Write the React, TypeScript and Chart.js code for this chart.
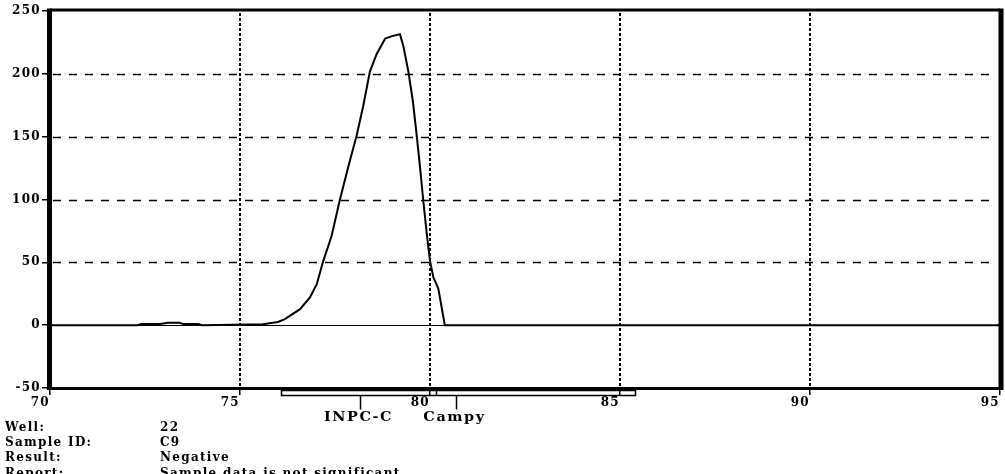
import React, { useEffect, useRef } from 'react';
import { Chart, registerables } from 'chart.js';

Chart.register(...registerables);

// Melt curve: temperature (°C) vs. fluorescence derivative
const temperatures = [
  70, 72.3, 72.4, 72.9, 73.1, 73.4, 73.5, 73.9, 74.0, 75.6, 76.0, 76.18, 76.58, 76.84, 77.02,
  77.19, 77.41, 77.63, 77.85, 78.07, 78.24, 78.42, 78.6, 78.82, 79.0, 79.21, 79.3, 79.43,
  79.55, 79.65, 79.74, 79.82, 79.91, 80.0, 80.09, 80.22, 80.39, 95,
];
const fluorescence = [
  0, 0, 1, 1, 2, 2, 1, 1, 0, 0.8, 2.5, 4.8, 12.7, 22, 32.6,
  51, 71, 100, 126, 151, 174, 202, 216, 228, 230, 231.5, 222, 202,
  178, 151, 125, 100, 74, 51, 38, 29, 0, 0,
];

const xTickValues = [70, 75, 80, 85, 90, 95];
const yTickValues = [-50, 0, 50, 100, 150, 200, 250];
const dashedGridValues = [50, 100, 150, 200];
const dottedGridValues = [75, 80, 85, 90];

// Target range bar under the axis
const rangeBar = [76.08, 85.39];
const rangeDivider = 80.15;
const markerNames = ['INPC-C', 'Campy'];
const markerTemps = [78.16, 80.68];

const footerLabels = ['Well:', 'Sample ID:', 'Result:', 'Report:'];
const footerValues = ['22', 'C9', 'Negative', 'Sample data is not significant'];

const FONT = '"DejaVu Serif", "Liberation Serif", serif';

const decorPlugin = {
  id: 'decor',
  beforeDatasetsDraw(chart: any) {
    const { ctx, chartArea: a, scales } = chart;
    const x = scales.x;
    const y = scales.y;
    ctx.save();
    ctx.strokeStyle = '#000';
    // horizontal dashed grid lines
    ctx.lineWidth = 1.5;
    ctx.setLineDash([8, 8]);
    for (const v of dashedGridValues) {
      const py = Math.round(y.getPixelForValue(v)) + 0.5;
      ctx.beginPath();
      ctx.moveTo(a.left + 3, py);
      ctx.lineTo(a.right - 3, py);
      ctx.stroke();
    }
    // zero line
    ctx.setLineDash([]);
    ctx.lineWidth = 1.2;
    const pz = Math.round(y.getPixelForValue(0)) + 0.5;
    ctx.beginPath();
    ctx.moveTo(a.left, pz);
    ctx.lineTo(a.right - 8, pz);
    ctx.stroke();
    // vertical dotted grid lines
    ctx.lineWidth = 2;
    ctx.setLineDash([3, 2]);
    for (const v of dottedGridValues) {
      const px = Math.round(x.getPixelForValue(v));
      ctx.beginPath();
      ctx.moveTo(px, a.top + 2);
      ctx.lineTo(px, a.bottom);
      ctx.stroke();
    }
    ctx.restore();
  },
  afterDraw(chart: any) {
    const { ctx, chartArea: a, scales } = chart;
    const x = scales.x;
    ctx.save();
    ctx.strokeStyle = '#000';
    ctx.fillStyle = '#000';
    ctx.setLineDash([]);
    // frame
    ctx.lineWidth = 3;
    ctx.beginPath();
    ctx.moveTo(a.left, a.top - 1);
    ctx.lineTo(a.right, a.top - 1);
    ctx.moveTo(a.left, a.bottom + 0.5);
    ctx.lineTo(a.right, a.bottom + 0.5);
    ctx.stroke();
    ctx.lineWidth = 5;
    ctx.beginPath();
    ctx.moveTo(a.left - 0.5, a.top - 2.5);
    ctx.lineTo(a.left - 0.5, a.bottom + 2);
    ctx.moveTo(a.right + 1, a.top - 2.5);
    ctx.lineTo(a.right + 1, a.bottom + 2);
    ctx.stroke();

    // range bar
    const x0 = Math.round(x.getPixelForValue(rangeBar[0])) + 0.5;
    const x1 = Math.round(x.getPixelForValue(rangeBar[1])) + 0.5;
    const top = a.bottom + 2.5;
    const bot = a.bottom + 7.5;
    ctx.lineWidth = 1.5;
    ctx.strokeRect(x0, top, x1 - x0, bot - top);
    const xd = Math.round(x.getPixelForValue(rangeDivider)) + 0.5;
    ctx.beginPath();
    ctx.moveTo(xd, top);
    ctx.lineTo(xd, bot);
    ctx.stroke();

    // markers
    ctx.font = `bold 12px ${FONT}`;
    ctx.textAlign = 'center';
    ctx.textBaseline = 'middle';
    markerNames.forEach((name, i) => {
      const px = Math.round(x.getPixelForValue(markerTemps[i])) + 0.5;
      ctx.lineWidth = 1.5;
      ctx.beginPath();
      ctx.moveTo(px, bot);
      ctx.lineTo(px, bot + 14);
      ctx.stroke();
      ctx.save();
      ctx.translate(px - 2, a.bottom + 30);
      ctx.scale(1.2, 1);
      ctx.fillText(name, 0, 0);
      ctx.restore();
    });
    ctx.restore();
  },
};

export default function App() {
  const canvasRef = useRef<HTMLCanvasElement | null>(null);

  useEffect(() => {
    if (!canvasRef.current) return;
    const chart = new Chart(canvasRef.current, {
      type: 'line',
      data: {
        datasets: [
          {
            data: temperatures.map((t, i) => ({ x: t, y: fluorescence[i] })),
            borderColor: '#000',
            borderWidth: 2,
            pointRadius: 0,
            tension: 0,
            fill: false,
          },
        ],
      },
      options: {
        animation: false,
        responsive: true,
        maintainAspectRatio: false,
        layout: { padding: { top: 11, right: 5, bottom: 0, left: 0 } },
        plugins: { legend: { display: false }, tooltip: { enabled: false } },
        scales: {
          x: {
            type: 'linear',
            min: 70,
            max: 95,
            afterBuildTicks: (s: any) => {
              s.ticks = xTickValues.map((v) => ({ value: v }));
            },
            afterFit: (s: any) => {
              s.height = 86;
            },
            ticks: {
              align: 'end',
              padding: 1,
              color: '#000',
              font: { family: FONT, size: 12, weight: 'bold' },
            },
            grid: {
              display: true,
              drawOnChartArea: false,
              drawTicks: true,
              tickLength: 7,
              color: '#000',
              lineWidth: 1.5,
            },
            border: { display: false },
          },
          y: {
            type: 'linear',
            min: -50,
            max: 250,
            afterBuildTicks: (s: any) => {
              s.ticks = yTickValues.map((v) => ({ value: v }));
            },
            afterFit: (s: any) => {
              s.width = 50;
            },
            ticks: {
              padding: 1,
              color: '#000',
              font: { family: FONT, size: 12, weight: 'bold' },
            },
            grid: {
              display: true,
              drawOnChartArea: false,
              drawTicks: true,
              tickLength: 8,
              color: '#000',
              lineWidth: 1.5,
            },
            border: { display: false },
          },
        },
      },
      plugins: [decorPlugin],
    });
    return () => chart.destroy();
  }, []);

  const rowStyle = (i: number): React.CSSProperties => ({
    position: 'absolute',
    top: 420 + i * 15.2,
    whiteSpace: 'nowrap',
    lineHeight: '14px',
  });

  return (
    <div
      style={{
        position: 'absolute',
        left: 0,
        top: 0,
        width: 1005,
        height: 474,
        overflow: 'hidden',
        background: '#fff',
        fontFamily: FONT,
        fontWeight: 'bold',
        fontSize: 12,
        color: '#000',
        letterSpacing: '1.3px',
      }}
    >
      <canvas ref={canvasRef} style={{ position: 'absolute', left: 0, top: 0 }} />
      {footerLabels.map((label, i) => (
        <div key={'l' + i} style={{ ...rowStyle(i), left: 5 }}>
          {label}
        </div>
      ))}
      {footerValues.map((value, i) => (
        <div key={'v' + i} style={{ ...rowStyle(i), left: 160 }}>
          {value}
        </div>
      ))}
    </div>
  );
}
